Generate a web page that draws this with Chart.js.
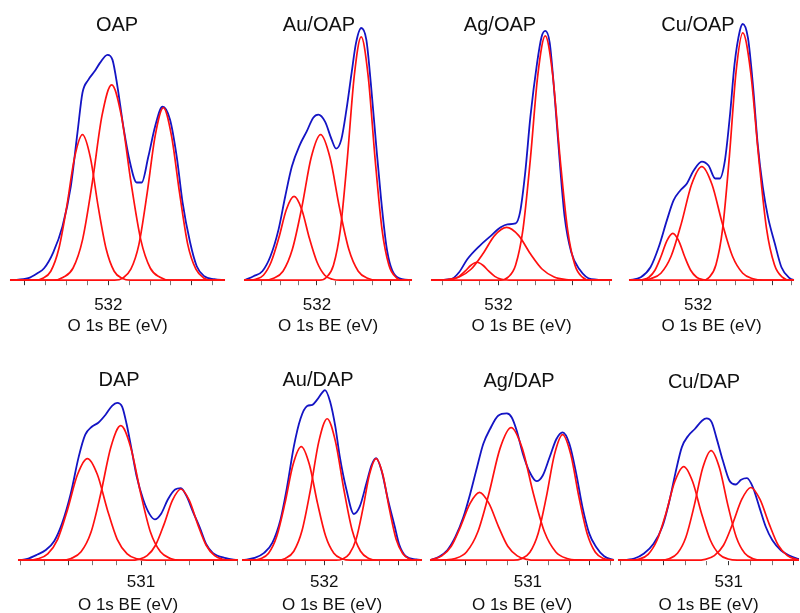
<!DOCTYPE html>
<html>
<head>
<meta charset="utf-8">
<script src="https://cdn.jsdelivr.net/npm/chart.js@4.4.1/dist/chart.umd.min.js"></script>
<style>
  html, body { margin: 0; padding: 0; background: #fff; overflow: hidden; }
  body { width: 800px; height: 613px; position: relative; font-family: "Liberation Sans", Arial, sans-serif; }
  .panel { position: absolute; }
  .name { position: absolute; width: 120px; text-align: center; font-size: 20px; line-height: 24px; color: #111; }
</style>
</head>
<body>
<script>
// panel names, labelled tick and tick step (eV)
const panelNames = ['OAP', 'Au/OAP', 'Ag/OAP', 'Cu/OAP', 'DAP', 'Au/DAP', 'Ag/DAP', 'Cu/DAP'];
const tickLabels = [532, 532, 532, 532, 531, 532, 531, 531];
const tickSteps = [0.25, 0.25, 0.25, 0.25, 1 / 3, 0.25, 1 / 3, 1 / 3];
const axisHigh = [533.18, 532.99, 532.91, 532.93, 532.70, 533.11, 532.58, 532.70];
const axisLow = [530.60, 530.71, 530.47, 530.71, 529.66, 530.68, 529.61, 529.92];
const axisTitle = 'O 1s BE (eV)';

// [binding energy, intensity]
const oapEnv = [[533.17,0],[532.96,2],[532.85,7],[532.77,12],[532.66,28],[532.55,54],[532.45,94],[532.37,148],[532.31,188],[532.24,201],[532.16,210],[532.10,218],[532.01,226],[531.95,221],[531.89,194],[531.82,154],[531.74,118],[531.66,98],[531.60,98],[531.52,124],[531.44,154],[531.35,174],[531.26,161],[531.18,124],[531.11,78],[531.02,38],[530.94,14],[530.85,4],[530.73,1],[530.60,0]];
const oapP1 = [[533.18,0],[532.88,0],[532.785,2],[532.69,9],[532.595,31],[532.50,73],[532.405,123],[532.31,146],[532.215,123],[532.12,73],[532.025,31],[531.93,9],[531.835,2],[531.74,0],[530.60,0]];
const oapP2 = [[533.18,0],[532.656,0],[532.54,3],[532.424,12],[532.308,41],[532.192,98],[532.076,165],[531.96,196],[531.844,165],[531.728,98],[531.612,41],[531.496,12],[531.38,3],[531.264,0],[530.60,0]];
const oapP3 = [[533.18,0],[531.925,0],[531.828,2],[531.73,11],[531.633,36],[531.535,87],[531.438,145],[531.34,173],[531.243,145],[531.145,87],[531.048,36],[530.95,11],[530.853,2],[530.755,0],[530.60,0]];

const auoapEnv = [[532.98,0],[532.86,4],[532.74,9],[532.63,24],[532.52,51],[532.43,84],[532.34,114],[532.23,136],[532.14,149],[532.05,163],[531.98,166],[531.89,159],[531.80,141],[531.74,132],[531.67,141],[531.60,171],[531.53,208],[531.47,238],[531.40,253],[531.33,241],[531.27,198],[531.20,138],[531.13,81],[531.06,35],[531.00,14],[530.91,3],[530.71,0]];
const auoapP1 = [[532.99,0],[532.934,0],[532.83,1],[532.726,5],[532.622,18],[532.518,42],[532.414,71],[532.31,84],[532.206,71],[532.102,42],[531.998,18],[531.894,5],[531.79,1],[531.686,0],[530.71,0]];
const auoapP2 = [[532.99,0],[532.715,0],[532.588,2],[532.46,9],[532.333,31],[532.205,73],[532.078,123],[531.95,146],[531.823,123],[531.695,73],[531.568,31],[531.44,9],[531.313,2],[531.185,0],[530.71,0]];
const auoapP3 = [[532.99,0],[531.964,0],[531.87,3],[531.776,15],[531.682,51],[531.588,122],[531.494,205],[531.40,244],[531.306,205],[531.212,122],[531.118,51],[531.024,15],[530.93,3],[530.836,0],[530.71,0]];

const agoapEnv = [[532.91,0],[532.64,1],[532.53,8],[532.42,21],[532.26,34],[532.11,44],[531.97,53],[531.88,56],[531.77,57],[531.71,68],[531.64,108],[531.57,164],[531.48,218],[531.42,244],[531.37,250],[531.31,238],[531.24,181],[531.17,114],[531.11,64],[531.02,28],[530.91,11],[530.75,1],[530.47,0]];
const agoapP1 = [[532.91,0],[532.77,0],[532.69,0.2],[532.61,1.1],[532.53,3.8],[532.45,9],[532.37,15],[532.29,18],[532.21,15],[532.13,9],[532.05,3.8],[531.97,1.1],[531.89,0.2],[531.81,0],[530.47,0]];
const agoapP2 = [[532.91,0],[532.85,0.1],[532.69,0.7],[532.53,3.3],[532.37,11],[532.21,26.5],[532.05,45],[531.89,53],[531.73,45],[531.57,26.5],[531.41,11],[531.25,3.3],[531.09,0.7],[530.93,0.1],[530.47,0]];
const agoapP3 = [[532.91,0],[531.97,0],[531.87,3],[531.77,15],[531.67,51],[531.57,122],[531.47,206],[531.37,245],[531.27,206],[531.17,122],[531.07,51],[530.97,15],[530.87,3],[530.77,0],[530.47,0]];

const cuoapEnv = [[532.93,0],[532.77,3],[532.64,13],[532.53,33],[532.42,60],[532.33,80],[532.24,90],[532.15,97],[532.06,110],[531.95,119],[531.86,115],[531.77,102],[531.71,102],[531.64,120],[531.57,167],[531.51,217],[531.44,250],[531.40,257],[531.33,243],[531.26,193],[531.20,137],[531.13,93],[531.06,63],[530.97,37],[530.88,13],[530.77,2],[530.71,0]];
const cuoapP1 = [[532.93,0],[532.82,0],[532.74,0.6],[532.66,3],[532.58,10],[532.50,23.5],[532.42,39.5],[532.34,47],[532.26,39.5],[532.18,23.5],[532.10,10],[532.02,3],[531.94,0.6],[531.86,0],[530.71,0]];
const cuoapP2 = [[532.93,0],[532.775,0],[532.638,1.5],[532.50,7],[532.363,24],[532.225,57],[532.088,96],[531.95,114],[531.813,96],[531.675,57],[531.538,24],[531.40,7],[531.263,1.5],[531.125,0],[530.71,0]];
const cuoapP3 = [[532.93,0],[531.94,0],[531.85,3],[531.76,15.5],[531.67,52],[531.58,124],[531.49,209],[531.40,248],[531.294,209],[531.187,124],[531.081,52],[530.974,15.5],[530.868,3],[530.761,0],[530.71,0]];

const dapEnv = [[532.68,0],[532.57,1.3],[532.43,5.7],[532.32,10],[532.20,19],[532.09,37],[531.97,67],[531.86,104],[531.77,126],[531.68,134],[531.59,138],[531.49,146],[531.40,155],[531.33,158],[531.26,154],[531.20,137],[531.13,111],[531.06,84],[530.97,61],[530.88,46],[530.81,41],[530.72,47],[530.63,61],[530.53,71],[530.45,72.4],[530.37,64],[530.28,48],[530.19,33],[530.10,16],[530.01,7.4],[529.83,2],[529.67,0]];
const dapP1 = [[532.70,0],[532.562,0],[532.425,1.3],[532.288,6.4],[532.151,21],[532.014,51],[531.877,86],[531.74,102],[531.603,86],[531.466,51],[531.329,21],[531.192,6.4],[531.055,1.3],[530.918,0],[529.66,0]];
const dapP2 = [[532.70,0],[532.102,0],[531.965,1.8],[531.828,8.4],[531.691,28],[531.554,67.5],[531.417,113.5],[531.28,135],[531.143,113.5],[531.006,67.5],[530.869,28],[530.732,8.4],[530.595,1.8],[530.458,0],[529.66,0]];
const dapP3 = [[532.70,0],[531.149,0],[531.033,0.9],[530.916,4.5],[530.80,15],[530.683,36],[530.567,60],[530.45,71.5],[530.334,60],[530.217,36],[530.101,15],[529.984,4.5],[529.868,0.9],[529.751,0],[529.66,0]];

const audapEnv = [[533.10,0],[532.94,2.3],[532.81,7.4],[532.70,17.4],[532.59,40.7],[532.50,74],[532.41,114],[532.32,142],[532.23,154.7],[532.16,156],[532.10,160.7],[532.03,168],[531.99,170.7],[531.92,159],[531.85,134],[531.79,104],[531.70,70.7],[531.60,46.4],[531.52,54],[531.43,77.4],[531.36,95.7],[531.30,102.4],[531.23,90.7],[531.14,60.7],[531.05,34],[530.99,16],[530.90,4],[530.76,0.7],[530.68,0]];
const audapP1 = [[533.11,0],[532.97,0],[532.86,1.5],[532.75,7],[532.64,24],[532.53,57],[532.42,96],[532.31,114],[532.20,96],[532.09,57],[531.98,24],[531.87,7],[531.76,1.5],[531.65,0],[530.68,0]];
const audapP2 = [[533.11,0],[532.635,0],[532.523,1.8],[532.41,9],[532.298,30],[532.185,71],[532.073,119],[531.96,142],[531.848,119],[531.735,71],[531.623,30],[531.51,9],[531.398,1.8],[531.285,0],[530.68,0]];
const audapP3 = [[533.11,0],[531.84,0],[531.75,1.3],[531.66,6.4],[531.57,21],[531.48,51],[531.39,86],[531.30,102],[531.21,86],[531.12,51],[531.03,21],[530.94,6.4],[530.85,1.3],[530.76,0],[530.68,0]];

const agdapEnv = [[532.57,0],[532.44,3.3],[532.30,10],[532.17,23.3],[532.04,43.3],[531.93,66.7],[531.82,93.3],[531.72,116.7],[531.61,131.7],[531.48,145],[531.34,147.3],[531.26,143.3],[531.18,130],[531.08,106.7],[530.97,88.3],[530.86,79.3],[530.76,85],[530.65,103.3],[530.54,121.7],[530.44,128.3],[530.33,116.7],[530.22,86.7],[530.12,53.3],[530.01,26.7],[529.90,13.3],[529.77,4],[529.61,0]];
const agdapP1 = [[532.58,0.1],[532.54,0.9],[532.388,4.3],[532.236,14],[532.084,34],[531.932,57],[531.78,68],[531.628,57],[531.476,34],[531.324,14],[531.172,4.3],[531.02,0.9],[530.868,0],[529.61,0]];
const agdapP2 = [[532.58,0],[532.35,0.3],[532.17,1.7],[531.99,8.3],[531.81,28],[531.63,66.5],[531.45,112],[531.27,133],[531.09,112],[530.91,66.5],[530.73,28],[530.55,8.3],[530.37,1.7],[530.19,0.3],[529.61,0]];
const agdapP3 = [[532.58,0],[531.232,0],[531.10,1.6],[530.968,7.9],[530.836,26.5],[530.704,63],[530.572,106],[530.44,126],[530.308,106],[530.176,63],[530.044,26.5],[529.912,7.9],[529.78,1.6],[529.648,0.3],[529.61,0]];

const cudapEnv = [[532.70,0],[532.45,1.7],[532.30,6.7],[532.15,16.7],[532.02,33.3],[531.92,56.7],[531.82,86.7],[531.72,113.3],[531.62,125],[531.52,131.7],[531.41,140],[531.34,142.3],[531.26,138.3],[531.19,123.3],[531.09,100],[530.99,80],[530.89,76],[530.81,80.7],[530.72,82.3],[530.63,73.3],[530.53,53.3],[530.43,33.3],[530.33,20],[530.20,10],[530.08,5],[529.95,1.7],[529.92,1.2]];
const cudapP1 = [[532.70,0],[532.509,0],[532.373,1.2],[532.236,5.9],[532.10,20],[531.963,47],[531.827,79],[531.69,94],[531.554,79],[531.417,47],[531.281,20],[531.144,5.9],[531.008,1.2],[530.871,0],[529.92,0]];
const cudapP2 = [[532.70,0],[532.044,0],[531.915,1.4],[531.786,6.9],[531.657,23],[531.528,55],[531.399,92.5],[531.27,110],[531.141,92.5],[531.012,55],[530.883,23],[530.754,6.9],[530.625,1.4],[530.496,0],[529.92,0]];
const cudapP3 = [[532.70,0],[531.50,0],[531.36,0.9],[531.22,4.6],[531.08,15],[530.94,36.5],[530.80,61],[530.66,73],[530.52,61],[530.38,36.5],[530.24,15],[530.10,4.6],[529.96,0.9],[529.92,0.5]];

const envelopes = [oapEnv, auoapEnv, agoapEnv, cuoapEnv, dapEnv, audapEnv, agdapEnv, cudapEnv];
const components = [
  [oapP1, oapP2, oapP3], [auoapP1, auoapP2, auoapP3], [agoapP1, agoapP2, agoapP3], [cuoapP1, cuoapP2, cuoapP3],
  [dapP1, dapP2, dapP3], [audapP1, audapP2, audapP3], [agdapP1, agdapP2, agdapP3], [cudapP1, cudapP2, cudapP3]
];

// where each panel sits on the page (axis line y = base)
const layout = [
  { left: 9, base: 281, w: 217, nx: 117, ny: 24 },
  { left: 243, base: 281, w: 170, nx: 319, ny: 24 },
  { left: 430, base: 281, w: 183, nx: 500, ny: 24 },
  { left: 628, base: 281, w: 167, nx: 698, ny: 24 },
  { left: 17, base: 561, w: 222, nx: 119, ny: 379 },
  { left: 241, base: 561, w: 182, nx: 318, ny: 379 },
  { left: 429, base: 561, w: 186, nx: 519, ny: 380 },
  { left: 617, base: 561, w: 183, nx: 704, ny: 381 },
];
const rows = [
  { h: 350, pad: 10, titleTop: -9 },
  { h: 290, pad: 7, titleTop: -4 }
];

Chart.defaults.font.family = "'Liberation Sans', Arial, sans-serif";
Chart.defaults.color = '#111';

const BLUE = '#1414c4';
const RED = '#ff1010';

panelNames.forEach((name, i) => {
  const L = layout[i];
  const row = rows[i < 4 ? 0 : 1];

  const box = document.createElement('div');
  box.className = 'panel';
  box.style.left = L.left + 'px';
  box.style.top = '0px';
  const canvas = document.createElement('canvas');
  canvas.width = L.w;
  canvas.height = row.h;
  box.appendChild(canvas);
  document.body.appendChild(box);

  const label = document.createElement('div');
  label.className = 'name';
  label.textContent = name;
  label.style.left = (L.nx - 60) + 'px';
  label.style.top = (L.ny - 12) + 'px';
  document.body.appendChild(label);

  const datasets = [{
    data: envelopes[i],
    borderColor: BLUE,
    borderWidth: 1.8,
    order: 1
  }];
  components[i].forEach(c => datasets.push({
    data: c,
    borderColor: RED,
    borderWidth: 1.7,
    order: 0
  }));

  const chart = new Chart(canvas, {
    type: 'line',
    data: { datasets },
    options: {
      responsive: false,
      animation: false,
      layout: { padding: 0 },
      elements: {
        point: { radius: 0 },
        line: { cubicInterpolationMode: 'monotone', fill: false }
      },
      plugins: { legend: { display: false }, tooltip: { enabled: false } },
      scales: {
        x: {
          type: 'linear',
          reverse: true,
          min: axisLow[i],
          max: axisHigh[i],
          border: { display: false },
          grid: {
            drawOnChartArea: false,
            drawTicks: true,
            tickLength: 4,
            tickColor: ctx => {
              const v = ctx.tick ? ctx.tick.value : 0;
              return Math.abs(v - Math.round(v)) < 1e-6 ? '#333' : '#777';
            }
          },
          afterBuildTicks: axis => {
            const out = [];
            for (let k = -12; k <= 12; k++) {
              const v = tickLabels[i] + k * tickSteps[i];
              if (v >= axisLow[i] - 1e-6 && v <= axisHigh[i] + 1e-6) out.push({ value: v });
            }
            axis.ticks = out;
          },
          ticks: {
            autoSkip: false,
            maxRotation: 0,
            minRotation: 0,
            padding: row.pad,
            font: { size: 17 },
            color: '#111',
            callback: v => Math.abs(v - tickLabels[i]) < 1e-6 ? String(tickLabels[i]) : ''
          },
          title: {
            display: true,
            text: axisTitle,
            font: { size: 17 },
            color: '#111',
            padding: { top: row.titleTop, bottom: 0 }
          }
        },
        y: {
          display: false,
          min: -1,
          max: 300
        }
      }
    }
  });

  // one intensity unit = one pixel, and the axis line lands on L.base
  const area = chart.chartArea;
  chart.options.scales.y.max = area.bottom - area.top - 1;
  chart.update();
  box.style.top = (L.base - chart.chartArea.bottom) + 'px';
});
</script>
</body>
</html>
